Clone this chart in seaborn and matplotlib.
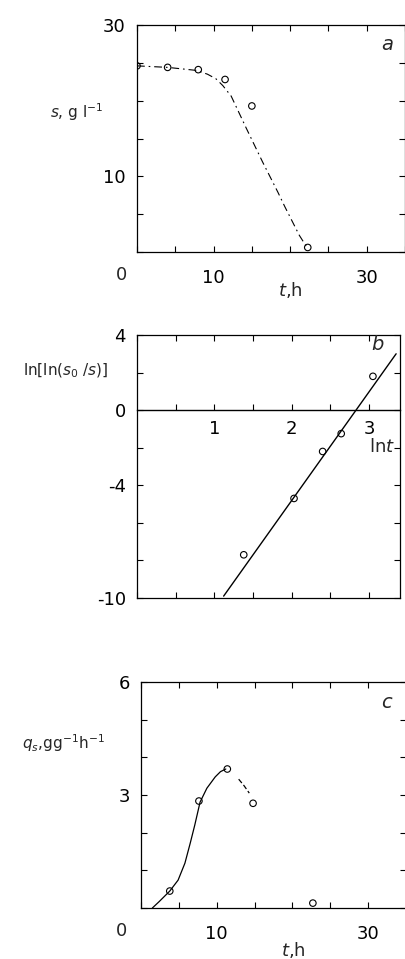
import matplotlib
matplotlib.use("Agg")
import matplotlib.pyplot as plt
import seaborn as sns

sns.set_theme(style="white")
plt.rcParams["font.family"] = ["DejaVu Sans"]
plt.rcParams["mathtext.fontset"] = "dejavusans"

# (a) substrate concentration versus time
t_meas = [0, 4, 8, 11.5, 15, 22.3]
s_meas = [24.6, 24.4, 24.1, 22.8, 19.3, 0.6]
t_curve_a = [0, 4, 7.75, 9.2, 10.3, 11.2, 12.3, 14.3, 16.4, 17.4, 18.4, 19.3, 20.3, 21.2, 22.2]
s_curve_a = [24.6, 24.4, 24.0, 23.5, 22.9, 22.0, 20.6, 16.3, 11.9, 9.9, 7.9, 6.0, 4.0, 2.2, 0.6]

# (b) linearised plot
lnt_meas = [1.38, 2.03, 2.40, 2.64, 3.05]
lnln_meas = [-7.7, -4.7, -2.2, -1.25, 1.8]
lnt_fit = [1.12, 3.35]
lnln_fit = [-9.9, 3.0]

# (c) specific uptake rate
t_q = [3.8, 7.65, 11.4, 14.8, 22.7]
q_meas = [0.45, 2.84, 3.69, 2.78, 0.13]
t_curve_c = [1.5, 2.4, 3.8, 4.9, 5.8, 6.5, 7.1, 7.8, 8.7, 9.8, 10.5, 11.2]
q_curve_c = [0.0, 0.17, 0.45, 0.74, 1.19, 1.72, 2.2, 2.81, 3.18, 3.48, 3.62, 3.69]
t_tail_c = [12.9, 13.6, 14.3]
q_tail_c = [3.42, 3.25, 3.05]

W, H = 406, 959
fig = plt.figure(figsize=(W / 100, H / 100), dpi=100)


def axes_px(left, top, right, bottom):
    return fig.add_axes([left / W, 1 - bottom / H, (right - left) / W, (bottom - top) / H])


def ftext(x, y, s, **kw):
    fig.text(x / W, 1 - y / H, s, ha="center", va="center", **kw)


def style_axes(ax):
    for sp in ax.spines.values():
        sp.set_color("black")
        sp.set_linewidth(0.9)
    ax.tick_params(direction="in", length=4, width=0.8, top=True, right=True,
                   left=True, bottom=True, labelsize=13, colors="black")


dashdot = (0, (7, 3.5, 1.5, 3.5))
mk = dict(marker="o", s=22, facecolor="none", edgecolor="black", linewidth=0.8, zorder=5)

# ---- panel a ----
ax1 = axes_px(137, 25, 405, 252)
style_axes(ax1)
sns.lineplot(x=t_curve_a, y=s_curve_a, ax=ax1, color="black", lw=0.8,
             linestyle=dashdot, sort=False, estimator=None)
sns.scatterplot(x=t_meas, y=s_meas, ax=ax1, **mk)
ax1.set_xlim(0, 35)
ax1.set_ylim(0, 30)
ax1.set_xticks(range(0, 36, 5))
ax1.set_xticklabels(["" if v not in (10, 30) else str(v) for v in range(0, 36, 5)])
ax1.set_yticks(range(0, 31, 5))
ax1.set_yticklabels(["" if v not in (10, 30) else str(v) for v in range(0, 31, 5)])
ax1.tick_params(axis="x", pad=12)
ax1.tick_params(axis="y", pad=8)
ftext(122, 275, "0", fontsize=13)
ftext(387, 45, "$a$", fontsize=14)
ftext(77, 112, "$s$, g l$^{-1}$", fontsize=11)
ftext(290, 290, "$t$,h", fontsize=13)

# ---- panel b ----
ax2 = axes_px(137, 335, 400, 598)
style_axes(ax2)
sns.lineplot(x=lnt_fit, y=lnln_fit, ax=ax2, color="black", lw=1.0,
             sort=False, estimator=None)
sns.scatterplot(x=lnt_meas, y=lnln_meas, ax=ax2, **mk)
ax2.set_xlim(0, 3.4)
ax2.set_ylim(-10, 4)
ax2.set_xticks([0.5 * i for i in range(7)])
ax2.set_xticklabels([])
ax2.set_yticks(range(-10, 5, 2))
ax2.set_yticklabels([str(v) if v in (4, 0, -4, -10) else "" for v in range(-10, 5, 2)])
ax2.tick_params(axis="y", pad=8)

# ln t axis running along the zero line
zero_axis = ax2.secondary_xaxis(10 / 14)
zero_axis.xaxis.set_ticks_position("bottom")
zero_axis.xaxis.set_label_position("bottom")
zero_axis.spines["bottom"].set_visible(True)
zero_axis.spines["bottom"].set_linewidth(1.0)
zero_axis.spines["bottom"].set_color("black")
zero_axis.spines["top"].set_visible(False)
zero_axis.set_xticks([0.5 * i for i in range(1, 7)])
zero_axis.set_xticklabels(["", "1", "", "2", "", "3"])
zero_axis.tick_params(axis="x", direction="in", length=4, width=0.8, labelsize=13,
                      pad=7, colors="black", bottom=True, top=False,
                      labelbottom=True, labeltop=False)
ftext(378, 345, "$b$", fontsize=14)
ftext(382, 447, "ln$t$", fontsize=13)
ftext(66, 371, "ln[ln($s_{0}$ /$s$)]", fontsize=11)

# ---- panel c ----
ax3 = axes_px(141, 682, 406, 908)
style_axes(ax3)
sns.lineplot(x=t_curve_c, y=q_curve_c, ax=ax3, color="black", lw=0.9,
             sort=False, estimator=None)
sns.lineplot(x=t_tail_c, y=q_tail_c, ax=ax3, color="black", lw=0.9,
             linestyle=(0, (4, 2)), sort=False, estimator=None)
sns.scatterplot(x=t_q, y=q_meas, ax=ax3, **mk)
ax3.set_xlim(0, 35)
ax3.set_ylim(0, 6)
ax3.set_xticks(range(0, 36, 5))
ax3.set_xticklabels(["" if v not in (10, 30) else str(v) for v in range(0, 36, 5)])
ax3.set_yticks(range(0, 7))
ax3.set_yticklabels([str(v) if v in (3, 6) else "" for v in range(0, 7)])
ax3.tick_params(axis="x", pad=12)
ax3.tick_params(axis="y", pad=8)
ftext(122, 931, "0", fontsize=13)
ftext(387, 702, "$c$", fontsize=14)
ftext(63, 743, "$q_s$,gg$^{-1}$h$^{-1}$", fontsize=11)
ftext(293, 950, "$t$,h", fontsize=13)

fig.savefig("out.png", dpi=100)
